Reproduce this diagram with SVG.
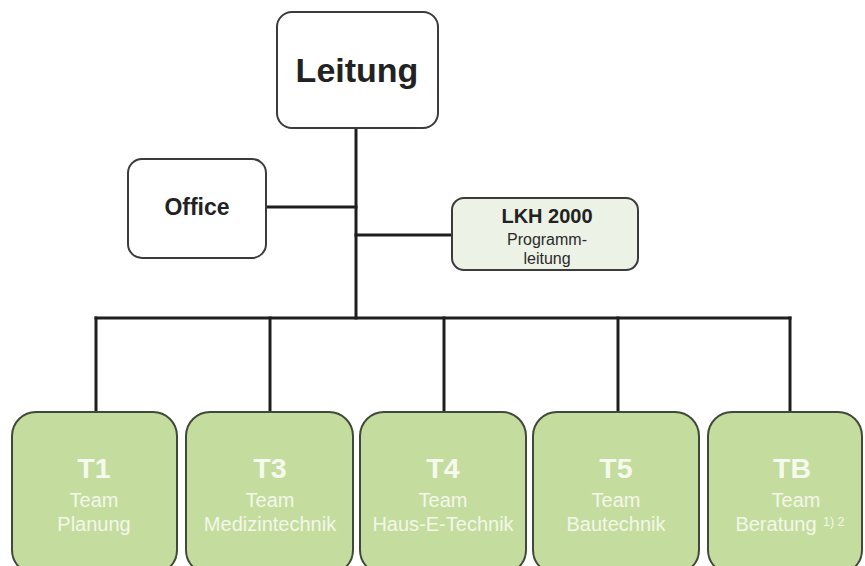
<svg xmlns="http://www.w3.org/2000/svg" width="865" height="566" viewBox="0 0 865 566">
<defs>
<style>
.box{fill:#ffffff;stroke:#3b3b3b;stroke-width:2}
.prog{fill:#edf2e7;stroke:#3b3b3b;stroke-width:2}
.team{fill:#c4dd9f;stroke:#3f4a3a;stroke-width:2}
.conn{stroke:#1e1e1e;stroke-width:3;fill:none;stroke-linecap:square}
text{font-family:"Liberation Sans",Arial,Helvetica,sans-serif;text-anchor:middle}
.dark{fill:#222222;font-weight:bold}
.small{fill:#2a2a2a;font-size:16px}
.tid{fill:#f6f9ee;font-weight:bold;font-size:28.5px}
.tname{fill:#f3f7e9;font-size:20px}
.fn{fill:#f3f7e9;font-size:12.5px;text-anchor:start}
</style>
</defs>
<rect width="865" height="566" fill="#ffffff"/>
<g id="connectors">
<line class="conn" x1="356" y1="128" x2="356" y2="318"/>
<line class="conn" x1="266" y1="207" x2="356" y2="207"/>
<line class="conn" x1="356" y1="235" x2="452" y2="235"/>
<line class="conn" x1="96" y1="318" x2="790" y2="318"/>
<line class="conn" x1="96" y1="318" x2="96" y2="412"/>
<line class="conn" x1="270" y1="318" x2="270" y2="412"/>
<line class="conn" x1="444" y1="318" x2="444" y2="412"/>
<line class="conn" x1="618" y1="318" x2="618" y2="412"/>
<line class="conn" x1="790" y1="318" x2="790" y2="412"/>
</g>
<g id="leitung">
<rect class="box" x="277" y="12" width="161" height="116" rx="15"/>
<text class="dark" x="357" y="82" font-size="34">Leitung</text>
</g>
<g id="office">
<rect class="box" x="128" y="159" width="138" height="99" rx="14"/>
<text class="dark" x="197" y="215" font-size="23">Office</text>
</g>
<g id="lkh2000">
<rect class="prog" x="452" y="198" width="186" height="72" rx="12"/>
<text class="dark" x="547" y="223" font-size="20">LKH 2000</text>
<text class="small" x="547" y="245">Programm-</text>
<text class="small" x="547" y="264">leitung</text>
</g>
<g id="t1">
<rect class="team" x="12" y="412" width="165" height="162" rx="24"/>
<text class="tid" x="94" y="478">T1</text>
<text class="tname" x="94" y="507">Team</text>
<text class="tname" x="94" y="531">Planung</text>
</g>
<g id="t3">
<rect class="team" x="186" y="412" width="167" height="162" rx="24"/>
<text class="tid" x="270" y="478">T3</text>
<text class="tname" x="270" y="507">Team</text>
<text class="tname" x="270" y="531">Medizintechnik</text>
</g>
<g id="t4">
<rect class="team" x="360" y="412" width="166" height="162" rx="24"/>
<text class="tid" x="443" y="478">T4</text>
<text class="tname" x="443" y="507">Team</text>
<text class="tname" x="443" y="531">Haus-E-Technik</text>
</g>
<g id="t5">
<rect class="team" x="533" y="412" width="166" height="162" rx="24"/>
<text class="tid" x="616" y="478">T5</text>
<text class="tname" x="616" y="507">Team</text>
<text class="tname" x="616" y="531">Bautechnik</text>
</g>
<g id="tb">
<rect class="team" x="708" y="412" width="154" height="162" rx="24"/>
<text class="tid" x="792" y="478">TB</text>
<text class="tname" x="796" y="507">Team</text>
<text class="tname" x="776" y="531">Beratung</text>
<text class="fn" x="823" y="526">1) 2</text>
</g>
</svg>
